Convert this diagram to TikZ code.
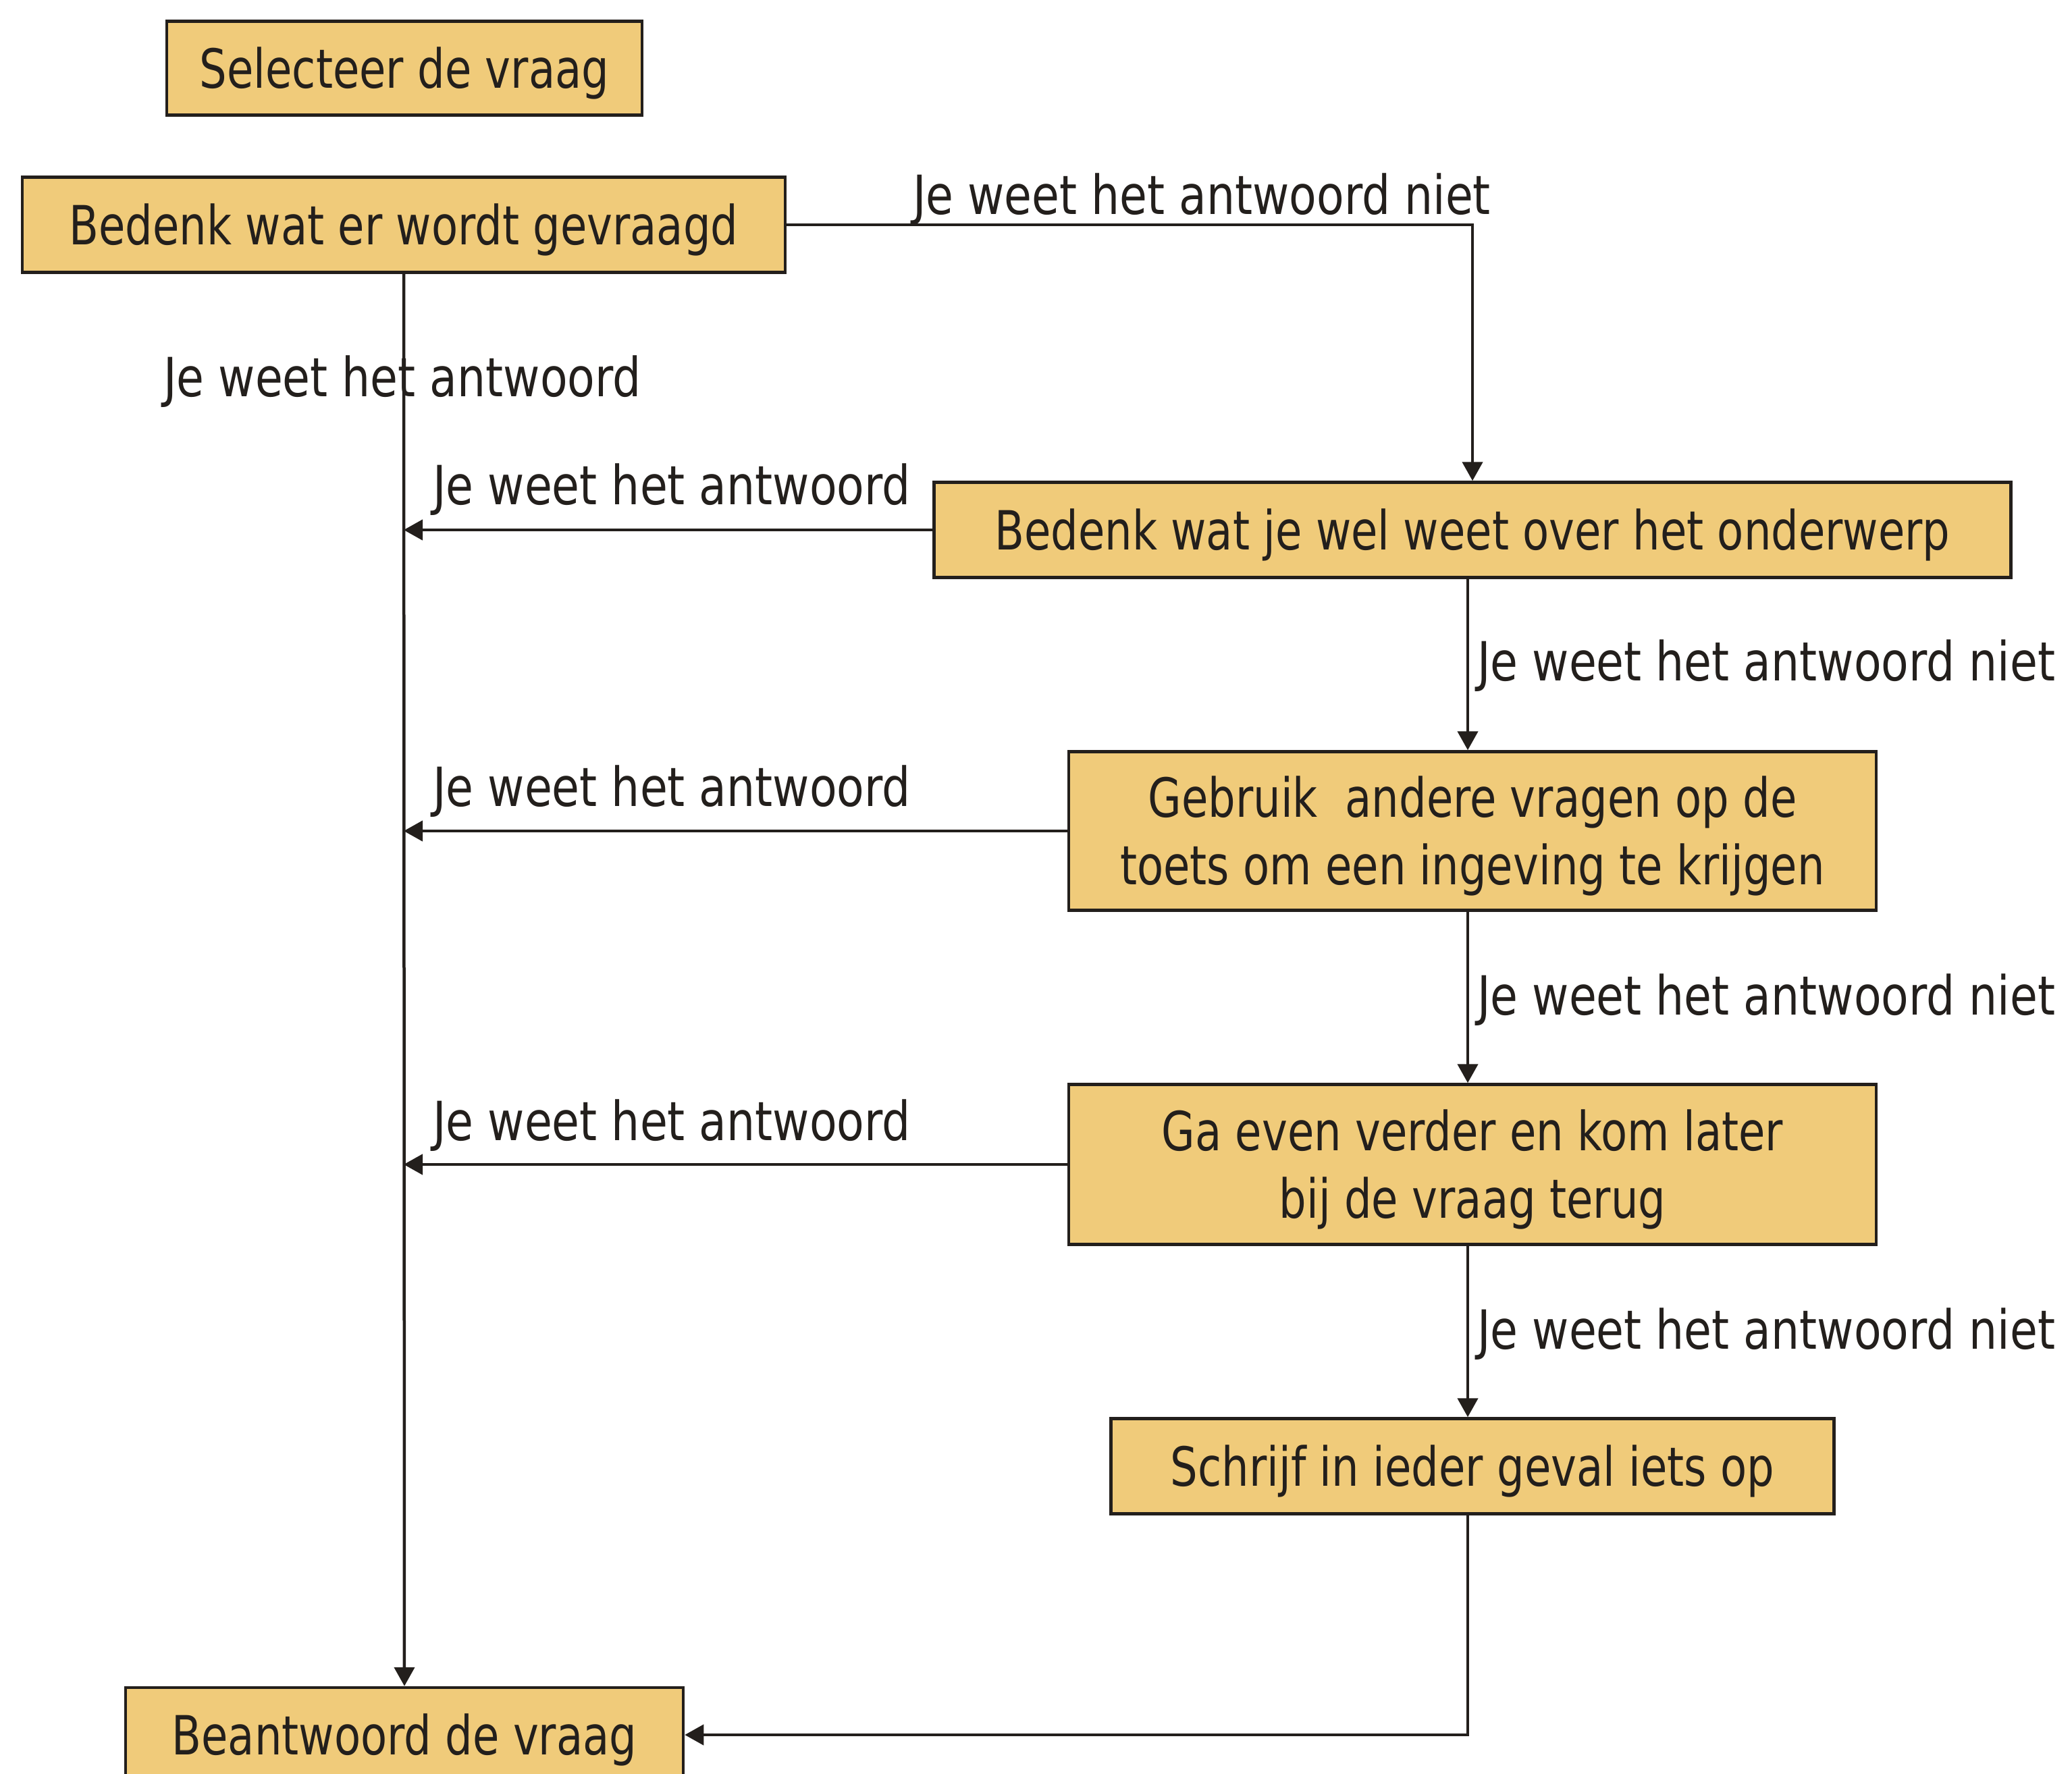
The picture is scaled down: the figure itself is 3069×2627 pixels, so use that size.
\documentclass[tikz,border=0pt]{standalone}
\usepackage{fontspec}
\setmainfont{DejaVu Sans}[FakeStretch=0.83]
\newfontfamily\boxfont{DejaVu Sans}[FakeStretch=0.80]
\usetikzlibrary{arrows.meta}
\definecolor{boxfill}{RGB}{240,203,122}
\definecolor{ink}{RGB}{35,31,28}
\begin{document}
\begin{tikzpicture}[x=1pt,y=-1pt,
  stepbox/.style={draw=ink,fill=boxfill,line width=4.5pt,inner sep=0pt,align=center,
    text=ink,font=\boxfont\fontsize{80}{100}\selectfont,text height=58pt,text depth=0pt},
  twoline/.style={text height=158pt,text depth=0pt},
  lbl/.style={text=ink,font=\fontsize{80}{100}\selectfont,inner sep=0pt,anchor=base},
  arr/.style={draw=ink,line width=4.5pt,-{Triangle[length=28pt,width=30pt]}},
  conn/.style={draw=ink,line width=4.5pt}]
\useasboundingbox (0,0) rectangle (3069,2627);
\clip (0,0) rectangle (3069,2627);
\fill[white] (0,0) rectangle (3069,2627);

\node[stepbox,minimum width=704pt,minimum height=139pt] (sel) at (599,101) {Selecteer de vraag};
\node[stepbox,minimum width=1130pt,minimum height=141pt] (q) at (598,333) {Bedenk wat er wordt gevraagd};
\node[stepbox,minimum width=1595pt,minimum height=141pt] (b2) at (2181,785) {Bedenk wat je wel weet over het onderwerp};
\node[stepbox,twoline,minimum width=1196pt,minimum height=235pt] (b3) at (2181,1231) {Gebruik\ \ andere vragen op de\\toets om een ingeving te krijgen};
\node[stepbox,twoline,minimum width=1196pt,minimum height=237pt] (b4) at (2181,1725) {Ga even verder en kom later\\bij de vraag terug};
\node[stepbox,minimum width=1071pt,minimum height=141pt] (b5) at (2181,2172) {Schrijf in ieder geval iets op};
\node[stepbox,minimum width=826pt,minimum height=140pt] (ans) at (599,2570) {Beantwoord de vraag};

% connectors
\draw[arr] (q.south) -- (ans.north);
\draw[arr] (q.east) -| (b2.north);
\draw[arr] (b2.west) -- (b2.west -| q.south);
\draw[arr] (b3.west) -- (b3.west -| q.south);
\draw[arr] (b4.west) -- (b4.west -| q.south);
\draw[arr] ([xshift=-7pt]b2.south) -- ([xshift=-7pt]b3.north);
\draw[arr] ([xshift=-7pt]b3.south) -- ([xshift=-7pt]b4.north);
\draw[arr] ([xshift=-7pt]b4.south) -- ([xshift=-7pt]b5.north);
\draw[arr] ([xshift=-7pt]b5.south) |- (ans.east);

% labels
\node[lbl] (l1) at (1780,317) {Je weet het antwoord niet};
\node[lbl] (l2) at (596,587) {Je weet het antwoord};
\node[lbl] (l3) at (995,747) {Je weet het antwoord};
\node[lbl] (l4) at (995,1194) {Je weet het antwoord};
\node[lbl] (l5) at (995,1689) {Je weet het antwoord};
\node[lbl,anchor=base west] (l6) at (2188,1008) {Je weet het antwoord niet};
\node[lbl,anchor=base west] (l7) at (2188,1503) {Je weet het antwoord niet};
\node[lbl,anchor=base west] (l8) at (2188,1998) {Je weet het antwoord niet};
\end{tikzpicture}
\end{document}
